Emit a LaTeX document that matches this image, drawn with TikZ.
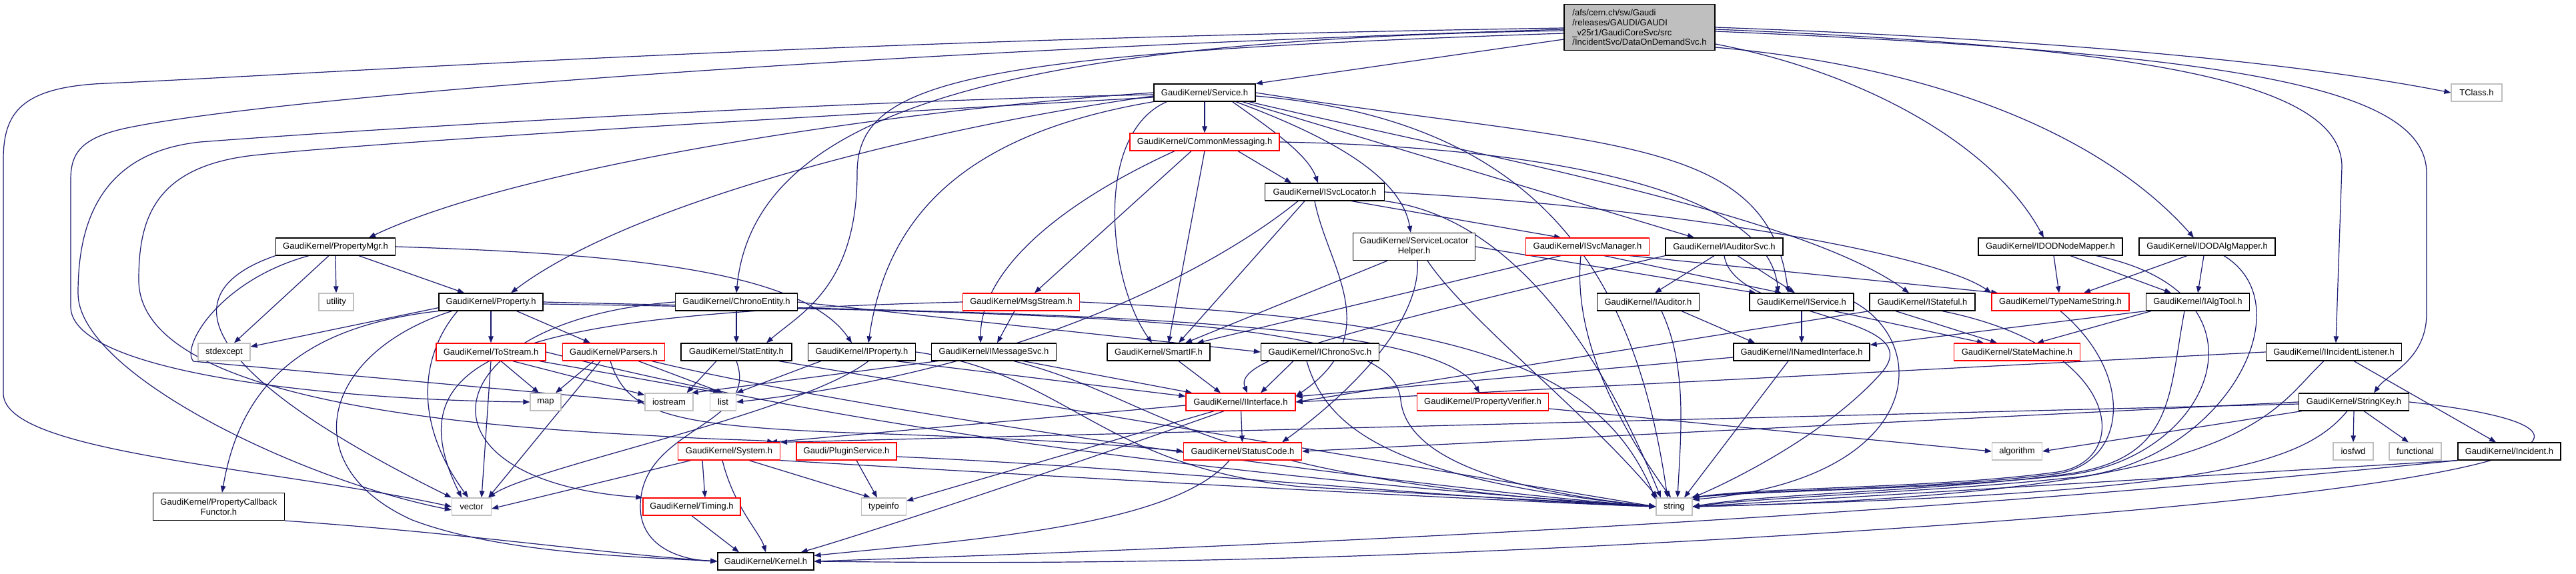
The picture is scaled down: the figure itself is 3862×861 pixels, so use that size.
\documentclass[tikz,border=0pt]{standalone}
\usepackage{fontspec}
\newfontfamily\nfont{Liberation Sans}
\usetikzlibrary{arrows.meta,calc}
\definecolor{edgec}{RGB}{25,25,112}
\definecolor{extc}{RGB}{191,191,191}
\definecolor{rootfill}{RGB}{191,191,191}
\newcommand\gfont{\nfont\fontsize{3.7pt}{4.2pt}\selectfont}
\pgfdeclarelayer{bg}
\pgfsetlayers{bg,main}
\begin{document}
\begin{tikzpicture}[x=0.01cm,y=-0.01cm,
 box/.style={draw=black,line width=0.012cm,fill=white,font=\gfont,minimum height=0.26cm,inner xsep=1pt,inner ysep=0pt},
 redbox/.style={box,draw=red},
 extbox/.style={box,draw=extc},
 dep/.style={draw=edgec,line width=0.012cm,-{Triangle[length=0.1cm,width=0.075cm]}}]
\useasboundingbox (0,0) rectangle (3862,861);

% ---------------- nodes ----------------
\node[box,fill=rootfill,align=left,minimum width=2.26cm,minimum height=0.69cm] (root) at (2458,41)
 {/afs/cern.ch/sw/Gaudi\\/releases/GAUDI/GAUDI\\\_v25r1/GaudiCoreSvc/src\\/IncidentSvc/DataOnDemandSvc.h};
\node[box,minimum width=1.52cm] (service) at (1806,139) {GaudiKernel/Service.h};
\node[extbox,minimum width=0.76cm] (tclass) at (3713,139) {TClass.h};
\node[redbox,minimum width=2.24cm] (commsg) at (1806,213) {GaudiKernel/CommonMessaging.h};
\node[box,minimum width=1.79cm] (isvcloc) at (1986,288) {GaudiKernel/ISvcLocator.h};
\node[box,minimum width=1.79cm] (propmgr) at (503,370) {GaudiKernel/PropertyMgr.h};
\node[box,align=center,minimum width=1.83cm,minimum height=0.41cm] (slhelper) at (2120,370) {GaudiKernel/ServiceLocator\\Helper.h};
\node[redbox,minimum width=1.85cm] (isvcmgr) at (2380,370) {GaudiKernel/ISvcManager.h};
\node[box,minimum width=1.76cm] (iauditorsvc) at (2585,370) {GaudiKernel/IAuditorSvc.h};
\node[box,minimum width=2.16cm] (idodnode) at (3074,370) {GaudiKernel/IDODNodeMapper.h};
\node[box,minimum width=2.04cm] (idodalg) at (3309,370) {GaudiKernel/IDODAlgMapper.h};
\node[extbox,minimum width=0.52cm] (utility) at (504,453) {utility};
\node[box,minimum width=1.56cm] (property) at (736,453) {GaudiKernel/Property.h};
\node[box,minimum width=1.83cm] (chrono) at (1104,453) {GaudiKernel/ChronoEntity.h};
\node[redbox,minimum width=1.75cm] (msgstream) at (1531,453) {GaudiKernel/MsgStream.h};
\node[box,minimum width=1.53cm] (iauditor) at (2471,453) {GaudiKernel/IAuditor.h};
\node[box,minimum width=1.56cm] (iservice) at (2701,453) {GaudiKernel/IService.h};
\node[box,minimum width=1.58cm] (istateful) at (2882,453) {GaudiKernel/IStateful.h};
\node[redbox,minimum width=2.06cm] (typename) at (3089,453) {GaudiKernel/TypeNameString.h};
\node[box,minimum width=1.55cm] (ialgtool) at (3295,453) {GaudiKernel/IAlgTool.h};
\node[extbox,minimum width=0.78cm] (stdexcept) at (336,528) {stdexcept};
\node[redbox,minimum width=1.64cm] (tostream) at (736,528) {GaudiKernel/ToStream.h};
\node[redbox,minimum width=1.53cm] (parsers) at (920,528) {GaudiKernel/Parsers.h};
\node[box,minimum width=1.66cm] (statentity) at (1104,528) {GaudiKernel/StatEntity.h};
\node[box,minimum width=1.61cm] (iproperty) at (1292,528) {GaudiKernel/IProperty.h};
\node[box,minimum width=1.87cm] (imsgsvc) at (1490,528) {GaudiKernel/IMessageSvc.h};
\node[box,minimum width=1.54cm] (smartif) at (1737,528) {GaudiKernel/SmartIF.h};
\node[box,minimum width=1.77cm] (ichrono) at (1979,528) {GaudiKernel/IChronoSvc.h};
\node[box,minimum width=2.04cm] (inamed) at (2701,528) {GaudiKernel/INamedInterface.h};
\node[redbox,minimum width=1.89cm] (statemachine) at (3024,528) {GaudiKernel/StateMachine.h};
\node[box,minimum width=2.03cm] (iincl) at (3499,528) {GaudiKernel/IIncidentListener.h};
\node[extbox,minimum width=0.46cm] (map) at (818,603) {map};
\node[extbox,minimum width=0.72cm] (iostream) at (1003,603) {iostream};
\node[extbox,minimum width=0.39cm] (list) at (1084,603) {list};
\node[redbox,minimum width=1.64cm] (iinterface) at (1860,603) {GaudiKernel/IInterface.h};
\node[redbox,minimum width=1.97cm] (propverifier) at (2223,603) {GaudiKernel/PropertyVerifier.h};
\node[box,minimum width=1.65cm] (stringkey) at (3529,603) {GaudiKernel/StringKey.h};
\node[redbox,minimum width=1.53cm] (system) at (1093,677) {GaudiKernel/System.h};
\node[redbox,minimum width=1.50cm] (plugin) at (1269,677) {Gaudi/PluginService.h};
\node[redbox,minimum width=1.77cm] (statuscode) at (1863,677) {GaudiKernel/StatusCode.h};
\node[extbox,minimum width=0.75cm] (algorithm) at (3024,677) {algorithm};
\node[extbox,minimum width=0.60cm] (iosfwd) at (3528,677) {iosfwd};
\node[extbox,minimum width=0.78cm] (functional) at (3621,677) {functional};
\node[box,minimum width=1.54cm] (incident) at (3762,677) {GaudiKernel/Incident.h};
\node[box,align=center,minimum width=1.97cm,minimum height=0.41cm] (pcbf) at (328,760) {GaudiKernel/PropertyCallback\\Functor.h};
\node[extbox,minimum width=0.59cm] (vector) at (707,760) {vector};
\node[redbox,minimum width=1.46cm] (timing) at (1037,760) {GaudiKernel/Timing.h};
\node[extbox,minimum width=0.67cm] (typeinfo) at (1325,760) {typeinfo};
\node[extbox,minimum width=0.54cm] (string) at (2510,760) {string};
\node[box,minimum width=1.44cm] (kernel) at (1148,842) {GaudiKernel/Kernel.h};

% ---------------- edges ----------------
\begin{pgfonlayer}{bg}
\fill[white] (0,0) rectangle (3862,861);
% root
\draw[dep] ($(root.west)+(0,18)$) -- (service.north east);
\draw[dep] ($(root.west)+(0,5)$) .. controls (1500,60) and (1130,170) .. (chrono.north);
\draw[dep] ($(root.west)+(0,9)$) .. controls (1450,80) and (1285,120) .. (1285,260) .. controls (1285,430) and (1200,470) .. ($(statentity.north)+(45,0)$);
\draw[dep] ($(root.west)+(0,1)$) .. controls (1200,60) and (500,110) .. (160,125) .. controls (30,130) and (5,170) .. (5,240) -- (5,590) .. controls (5,680) and (400,700) .. (vector.west);
\draw[dep] ($(root.west)+(0,3)$) .. controls (1200,80) and (400,150) .. (200,190) .. controls (120,205) and (106,230) .. (106,270) -- (106,460) .. controls (106,560) and (500,600) .. (map.west);
\draw[dep] (root.east) .. controls (3100,60) and (3450,95) .. (tclass.west);
\draw[dep] ($(root.east)+(0,3)$) .. controls (3200,70) and (3511,120) .. (3511,250) -- ($(iincl.north)+(3,0)$);
\draw[dep] ($(root.east)+(0,6)$) .. controls (3350,80) and (3638,130) .. (3638,260) -- (3638,470) .. controls (3638,540) and (3580,560) .. ($(stringkey.north)+(30,0)$);
\draw[dep] ($(root.east)+(0,25)$) .. controls (2800,110) and (2990,220) .. ($(idodnode.north)+(-10,0)$);
\draw[dep] ($(root.east)+(0,30)$) .. controls (2900,100) and (3150,200) .. ($(idodalg.north)+(-20,0)$);
% Service.h
\draw[dep] (service) -- (commsg);
\draw[dep] ($(service.south east)+(-35,0)$) .. controls (1900,190) and (1960,230) .. ($(isvcloc.north)+(-10,0)$);
\draw[dep] ($(service.south east)+(-30,0)$) .. controls (1980,200) and (2100,260) .. ($(slhelper.north)+(-5,0)$);
\draw[dep] ($(service.south east)+(-20,0)$) -- ($(iauditorsvc.north)+(-45,0)$);
\draw[dep] (service.east) .. controls (2400,220) and (2650,200) .. ($(iservice.north)+(-20,0)$);
\draw[dep] ($(service.south east)+(-10,0)$) .. controls (2200,230) and (2700,320) .. ($(istateful.north)+(-20,0)$);
\draw[dep] ($(service.east)+(0,5)$) .. controls (2300,180) and (2450,400) .. ($(string.north)+(-10,0)$);
\draw[dep] (service.west) .. controls (1400,160) and (800,240) .. ($(propmgr.north)+(50,0)$);
\draw[dep] ($(service.west)+(0,5)$) .. controls (1400,190) and (950,300) .. ($(property.north)+(30,0)$);
\draw[dep] (service.south west) .. controls (1450,200) and (1330,320) .. ($(iproperty.north)+(10,0)$);
\draw[dep] ($(service.south west)+(20,0)$) .. controls (1640,200) and (1660,420) .. ($(smartif.north)+(-10,0)$);
\draw[dep] ($(service.west)+(0,3)$) .. controls (1300,150) and (600,190) .. (300,213) .. controls (140,230) and (117,350) .. (117,440) .. controls (117,560) and (450,720) .. ($(vector.west)+(0,5)$);
\draw[dep] ($(service.west)+(0,7)$) .. controls (1300,170) and (600,210) .. (380,233) .. controls (230,250) and (208,330) .. (208,420) .. controls (208,560) and (500,630) .. (970,653) .. controls (1080,660) and (1140,660) .. ($(system.north east)+(-10,0)$);
% CommonMessaging.h
\draw[dep] ($(commsg.south)+(50,0)$) -- ($(isvcloc.north)+(-50,0)$);
\draw[dep] ($(commsg.south)+(-20,0)$) -- ($(msgstream.north)+(20,0)$);
\draw[dep] ($(commsg.south)+(-45,0)$) .. controls (1600,300) and (1470,400) .. ($(imsgsvc.north)+(-20,0)$);
\draw[dep] (commsg.south) -- ($(smartif.north)+(15,0)$);
\draw[dep] (commsg.east) .. controls (2300,220) and (2650,280) .. ($(iservice.north)+(-35,0)$);
% ISvcLocator.h
\draw[dep] ($(isvcloc.south)+(-30,0)$) -- ($(smartif.north)+(30,0)$);
\draw[dep] ($(isvcloc.south)+(-40,0)$) .. controls (1800,420) and (1500,560) .. (list.east);
\draw[dep] ($(isvcloc.south)+(-15,0)$) .. controls (1990,400) and (2080,500) .. ($(iinterface.north east)+(0,5)$);
\draw[dep] ($(isvcloc.south east)+(-50,0)$) -- ($(isvcmgr.north)+(-40,0)$);
\draw[dep] (isvcloc.south east) .. controls (2300,330) and (2430,600) .. ($(string.north)+(-20,0)$);
\draw[dep] (isvcloc.east) .. controls (2500,310) and (2900,380) .. (typename.north west);
% PropertyMgr.h
\draw[dep] ($(propmgr.south)+(-40,0)$) .. controls (330,420) and (270,520) .. (290,542) -- (iostream.west);
\draw[dep] (propmgr.south west) .. controls (250,440) and (300,560) .. (vector.north west);
\draw[dep] ($(propmgr.south)+(-10,0)$) -- ($(stdexcept.north)+(15,0)$);
\draw[dep] (propmgr.south) -- (utility.north);
\draw[dep] ($(propmgr.south)+(35,0)$) -- ($(property.north)+(-40,0)$);
\draw[dep] (propmgr.east) .. controls (900,380) and (1200,400) .. ($(iproperty.north)+(-15,0)$);
% ServiceLocatorHelper.h
\draw[dep] ($(slhelper.south)+(-40,0)$) -- ($(smartif.north)+(40,0)$);
\draw[dep] ($(slhelper.south)+(5,0)$) .. controls (2130,470) and (2050,570) .. ($(statuscode.north east)+(-30,0)$);
\draw[dep] ($(slhelper.south)+(20,0)$) .. controls (2200,480) and (2380,620) .. ($(string.north)+(-25,0)$);
\draw[dep] (slhelper.east) -- ($(iservice.north west)+(10,0)$);
% ISvcManager.h
\draw[dep] ($(isvcmgr.south)+(-40,0)$) -- ($(smartif.north east)+(-20,0)$);
\draw[dep] ($(isvcmgr.south)+(-10,0)$) .. controls (2360,480) and (2400,600) .. ($(string.north)+(-5,0)$);
\draw[dep] ($(isvcmgr.south)+(25,0)$) -- ($(iservice.north)+(-30,0)$);
\draw[dep] ($(isvcmgr.south east)+(-30,0)$) -- ($(typename.north west)+(10,0)$);
% IAuditorSvc.h
\draw[dep] ($(iauditorsvc.south)+(20,0)$) -- ($(iservice.north)+(-10,0)$);
\draw[dep] ($(iauditorsvc.south)+(-15,0)$) -- ($(iauditor.north)+(10,0)$);
\draw[dep] (iauditorsvc.south) .. controls (2600,480) and (2900,470) .. (2820,560) .. controls (2740,650) and (2600,720) .. (string.north east);
\draw[dep] (iauditorsvc.south west) .. controls (2000,500) and (1850,540) .. ($(iinterface.north)+(10,0)$);
% IDOD mappers
\draw[dep] ($(idodnode.south)+(5,0)$) -- ($(typename.north)+(-2,0)$);
\draw[dep] ($(idodnode.south)+(30,0)$) -- ($(ialgtool.north)+(-40,0)$);
\draw[dep] ($(idodnode.south east)+(-40,0)$) .. controls (3420,440) and (3320,690) .. (3095,713) .. controls (2900,735) and (2650,735) .. (string.north east);
\draw[dep] ($(idodalg.south)+(-30,0)$) -- ($(typename.north)+(35,0)$);
\draw[dep] ($(idodalg.south)+(-5,0)$) -- (ialgtool.north);
\draw[dep] ($(idodalg.south)+(25,0)$) .. controls (3460,460) and (3330,700) .. (3100,717) .. controls (2900,738) and (2650,745) .. (string.east);
% row 453
\draw[dep] ($(iauditor.south)+(50,0)$) -- ($(inamed.north)+(-70,0)$);
\draw[dep] ($(iauditor.south)+(20,0)$) .. controls (2530,550) and (2520,650) .. ($(string.north)+(5,0)$);
\draw[dep] (iservice) -- (inamed);
\draw[dep] ($(iservice.south east)+(-30,0)$) -- ($(statemachine.north)+(-50,0)$);
\draw[dep] (iservice.east) .. controls (2900,520) and (2880,720) .. ($(string.north east)+(0,3)$);
\draw[dep] ($(istateful.south)+(-40,0)$) -- ($(statemachine.north)+(-30,0)$);
\draw[dep] (istateful.south west) -- (iinterface.east);
\draw[dep] ($(istateful.south east)+(-50,0)$) .. controls (3180,520) and (3200,690) .. (3085,708) .. controls (2900,733) and (2650,730) .. (string.north east);
\draw[dep] (typename.south) .. controls (3200,560) and (3190,690) .. (3088,710) .. controls (2900,735) and (2650,733) .. ($(string.north east)+(-3,0)$);
\draw[dep] (ialgtool.south west) -- ($(inamed.north east)+(0,3)$);
\draw[dep] ($(ialgtool.south)+(-70,0)$) -- ($(statemachine.north)+(30,0)$);
\draw[dep] ($(ialgtool.south)+(-20,0)$) .. controls (3250,600) and (3260,690) .. (3092,712) .. controls (2900,737) and (2650,740) .. (string.east);
% IIncidentListener, StringKey, Incident
\draw[dep] (iincl.west) -- (iinterface.east);
\draw[dep] ($(iincl.south)+(30,0)$) -- ($(incident.north)+(-20,0)$);
\draw[dep] ($(iincl.south)+(-15,0)$) .. controls (3400,620) and (3380,740) .. (string.east);
\draw[dep] (stringkey.west) -- (statuscode.east);
\draw[dep] ($(stringkey.west)+(0,3)$) -- (system.north east);
\draw[dep] ($(stringkey.south west)+(5,0)$) -- (algorithm.east);
\draw[dep] ($(stringkey.south)+(-10,0)$) .. controls (3450,700) and (3300,740) .. (string.east);
\draw[dep] (stringkey.south) -- (iosfwd.north);
\draw[dep] ($(stringkey.south)+(15,0)$) -- ($(functional.north)+(-10,0)$);
\draw[dep] (stringkey.east) .. controls (3950,640) and (3900,720) .. (2880,790) .. controls (2000,850) and (1500,845) .. (kernel.east);
\draw[dep] (incident.south west) -- (string.east);
\draw[dep] (incident.south west) .. controls (3000,760) and (2200,810) .. (kernel.east);
\draw[dep] ($(propverifier.east)+(0,10)$) -- (algorithm.west);
% INamedInterface, IInterface, StatusCode, SmartIF, IChronoSvc
\draw[dep] ($(inamed.west)+(0,8)$) -- ($(iinterface.east)+(0,-8)$);
\draw[dep] ($(inamed.south)+(-20,0)$) -- ($(string.north)+(15,0)$);
\draw[dep] (iinterface) -- (statuscode);
\draw[dep] ($(iinterface.south)+(-40,0)$) -- ($(typeinfo.north east)+(0,5)$);
\draw[dep] ($(iinterface.south)+(-25,0)$) .. controls (1600,700) and (1300,800) .. ($(kernel.north east)+(-20,0)$);
\draw[dep] ($(iinterface.west)+(0,5)$) -- ($(system.north east)+(-15,0)$);
\draw[dep] ($(statuscode.south)+(-20,0)$) .. controls (1760,790) and (1450,810) .. ($(kernel.north east)+(0,5)$);
\draw[dep] ($(smartif.south)+(30,0)$) -- ($(iinterface.north)+(-30,0)$);
\draw[dep] ($(ichrono.south)+(-40,0)$) -- ($(iinterface.north)+(30,0)$);
\draw[dep] ($(ichrono.south)+(-20,0)$) .. controls (1990,650) and (2100,720) .. (string.west);
% ChronoEntity, StatEntity
\draw[dep] (chrono) -- (statentity);
\draw[dep] (chrono.east) -- (ichrono.west);
\draw[dep] (chrono.west) .. controls (650,480) and (600,720) .. (timing.north west);
\draw[dep] ($(statentity.south)+(-30,0)$) -- ($(iostream.north east)+(-10,0)$);
\draw[dep] (statentity.south) .. controls (1140,640) and (960,640) .. (960,760) .. controls (960,820) and (1020,840) .. (kernel.west);
\draw[dep] ($(statentity.south east)+(-20,0)$) -- (string.west);
% IProperty, IMessageSvc, MsgStream
\draw[dep] ($(iproperty.south west)+(20,0)$) -- (list.north east);
\draw[dep] ($(iproperty.south)+(10,0)$) .. controls (1200,620) and (800,700) .. ($(vector.north east)+(-5,0)$);
\draw[dep] ($(iproperty.south east)+(-30,0)$) -- ($(iinterface.north west)+(0,5)$);
\draw[dep] (iproperty.east) .. controls (1600,560) and (1650,700) .. (1950,730) -- (string.west);
\draw[dep] ($(imsgsvc.south west)+(10,0)$) -- ($(iostream.north east)+(-3,0)$);
\draw[dep] ($(imsgsvc.south east)+(-50,0)$) -- ($(iinterface.north west)+(10,0)$);
\draw[dep] ($(imsgsvc.south)+(30,0)$) .. controls (1750,600) and (1780,720) .. (string.west);
\draw[dep] ($(msgstream.south)+(-10,0)$) -- ($(imsgsvc.north)+(5,0)$);
\draw[dep] (msgstream.west) .. controls (800,470) and (580,520) .. ($(vector.north)+(-15,0)$);
\draw[dep] (msgstream.east) .. controls (2200,480) and (2400,550) .. ($(string.north west)+(0,3)$);
% Property.h
\draw[dep] ($(property.south west)+(0,-5)$) -- ($(stdexcept.east)+(0,-8)$);
\draw[dep] (property.south west) .. controls (450,490) and (360,580) .. ($(pcbf.north)+(5,0)$);
\draw[dep] ($(property.south west)+(20,0)$) .. controls (480,530) and (440,700) .. (618,780) .. controls (750,830) and (950,835) .. (kernel.west);
\draw[dep] ($(property.south)+(-50,0)$) .. controls (640,520) and (610,620) .. ($(vector.north)+(-5,0)$);
\draw[dep] (property) -- (tostream);
\draw[dep] ($(property.south east)+(-40,0)$) -- ($(parsers.north)+(-35,0)$);
\draw[dep] (property.east) .. controls (1500,470) and (2150,470) .. ($(propverifier.north)+(-5,0)$);
\draw[dep] ($(property.east)+(0,3)$) .. controls (1700,470) and (2090,480) .. (2100,600) .. controls (2110,700) and (2300,740) .. (string.west);
% ToStream, Parsers
\draw[dep] (tostream.south) -- ($(vector.north)+(15,0)$);
\draw[dep] ($(tostream.south)+(15,0)$) -- ($(map.north)+(-10,0)$);
\draw[dep] ($(tostream.south east)+(-50,0)$) -- ($(iostream.north west)+(0,3)$);
\draw[dep] ($(tostream.south east)+(-10,0)$) -- ($(list.north)+(-5,0)$);
\draw[dep] (tostream.east) .. controls (1300,650) and (1900,720) .. (string.west);
\draw[dep] ($(parsers.south)+(-30,0)$) -- ($(map.north)+(15,0)$);
\draw[dep] ($(parsers.south)+(-20,0)$) -- ($(vector.north east)+(-5,0)$);
\draw[dep] ($(parsers.south east)+(-40,0)$) -- (list.north);
\draw[dep] ($(parsers.south east)+(-20,0)$) .. controls (1300,620) and (2100,730) .. (string.west);
\draw[dep] ($(parsers.south)+(-5,0)$) .. controls (940,620) and (1000,640) .. (1300,650) .. controls (1600,660) and (1700,670) .. (statuscode.west);
% System, PluginService, Timing, PropertyCallbackFunctor
\draw[dep] ($(system.south west)+(20,0)$) -- ($(vector.east)+(0,3)$);
\draw[dep] ($(system.south)+(-40,0)$) -- ($(timing.north)+(20,0)$);
\draw[dep] ($(system.south)+(-10,0)$) .. controls (1100,760) and (1140,800) .. (kernel.north);
\draw[dep] ($(system.south)+(30,0)$) -- ($(typeinfo.north)+(-20,0)$);
\draw[dep] (system.south east) .. controls (1500,710) and (2200,750) .. (string.west);
\draw[dep] ($(plugin.south)+(15,0)$) -- ($(typeinfo.north)+(-10,0)$);
\draw[dep] ($(plugin.east)+(0,8)$) .. controls (1700,700) and (2200,750) .. (string.west);
\draw[dep] (timing.south) -- ($(kernel.north)+(-40,0)$);
\draw[dep] (pcbf.south east) .. controls (700,800) and (900,830) .. (kernel.west);
\end{pgfonlayer}
\end{tikzpicture}
\end{document}
